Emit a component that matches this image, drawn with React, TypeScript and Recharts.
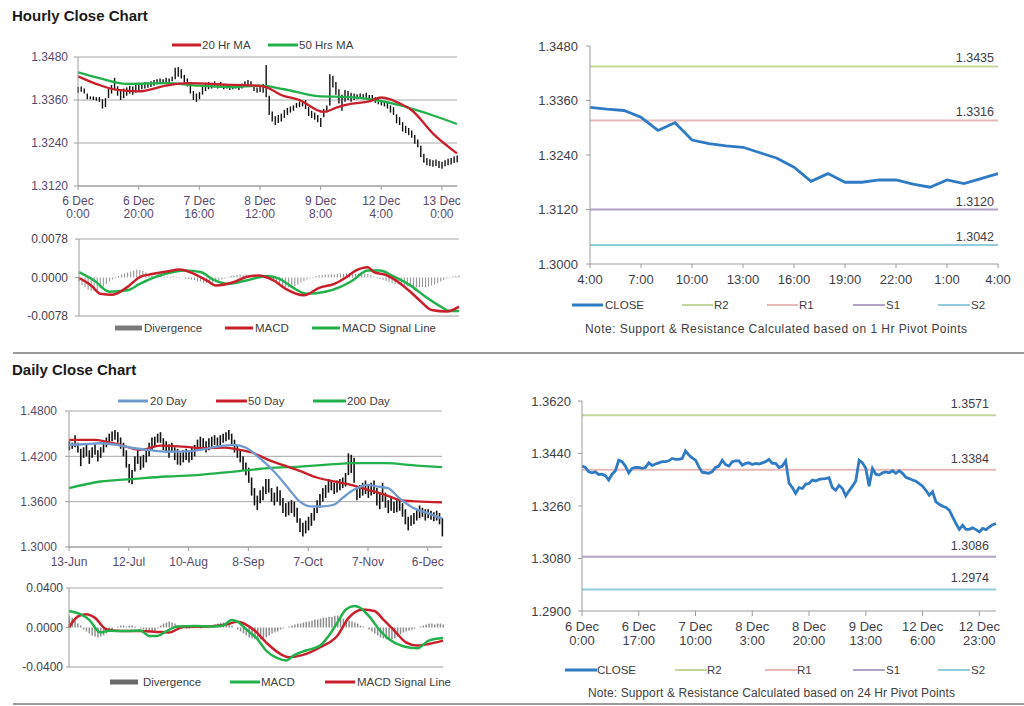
import React from 'react';
import { ComposedChart, Line, Bar, XAxis, YAxis, CartesianGrid, ReferenceLine } from 'recharts';

const FONT = "'Liberation Sans', Arial, Helvetica, sans-serif";
const RED = '#C8202A';
const GREEN = '#22B04B';
const BLUE20 = '#6E9AD0';
const CLOSE_BLUE = '#2E7BC3';
const GRID = '#A8A8A8';
const AXIS = '#9C9C9C';
const DIV_GRAY = '#8E8E8E';
const LABEL_PURPLE = '#574A6B';
const LABEL_DARK = '#3E3E48';
const PIVOT_COLORS = ['#C3D69B', '#E6B9B8', '#B3A2C7', '#93CDDD'];

// ---------------- Hourly close chart ----------------
const hourlyLow = [
  1.3380, 1.3383, 1.3378, 1.3362, 1.3362, 1.3360, 1.3358, 1.3355, 1.3336, 1.3340,
  1.3365, 1.3378, 1.3390, 1.3372, 1.3360, 1.3365, 1.3372, 1.3378, 1.3375, 1.3380,
  1.3385, 1.3390, 1.3392, 1.3394, 1.3396, 1.3400, 1.3404, 1.3406, 1.3408, 1.3410,
  1.3408, 1.3412, 1.3418, 1.3425, 1.3420, 1.3408, 1.3398, 1.3378, 1.3360, 1.3355,
  1.3362, 1.3375, 1.3385, 1.3390, 1.3392, 1.3395, 1.3392, 1.3394, 1.3390, 1.3392,
  1.3388, 1.3390, 1.3392, 1.3388, 1.3392, 1.3396, 1.3400, 1.3398, 1.3385, 1.3380,
  1.3382, 1.3380, 1.3368, 1.3318, 1.3300, 1.3290, 1.3296, 1.3300, 1.3310, 1.3318,
  1.3325, 1.3330, 1.3338, 1.3340, 1.3342, 1.3335, 1.3315, 1.3310, 1.3305, 1.3298,
  1.3285, 1.3312, 1.3325, 1.3345, 1.3395, 1.3375, 1.3350, 1.3330, 1.3355, 1.3360,
  1.3355, 1.3360, 1.3362, 1.3364, 1.3362, 1.3366, 1.3362, 1.3360, 1.3352, 1.3348,
  1.3345, 1.3342, 1.3336, 1.3325, 1.3318, 1.3295, 1.3290, 1.3272, 1.3268, 1.3262,
  1.3255, 1.3238, 1.3228, 1.3200, 1.3185, 1.3178, 1.3176, 1.3174, 1.3176, 1.3170,
  1.3168, 1.3175, 1.3178, 1.3180, 1.3184, 1.3186,
];
const hourlyHigh = [
  1.3396, 1.3398, 1.3392, 1.3378, 1.3370, 1.3370, 1.3368, 1.3368, 1.3362, 1.3365,
  1.3392, 1.3402, 1.3422, 1.3398, 1.3390, 1.3392, 1.3395, 1.3400, 1.3398, 1.3405,
  1.3408, 1.3406, 1.3410, 1.3408, 1.3412, 1.3416, 1.3418, 1.3420, 1.3418, 1.3422,
  1.3420, 1.3425, 1.3450, 1.3452, 1.3446, 1.3430, 1.3420, 1.3402, 1.3385, 1.3378,
  1.3382, 1.3398, 1.3408, 1.3410, 1.3408, 1.3412, 1.3404, 1.3410, 1.3404, 1.3402,
  1.3400, 1.3402, 1.3404, 1.3400, 1.3406, 1.3412, 1.3416, 1.3412, 1.3402, 1.3395,
  1.3398, 1.3405, 1.3458, 1.3372, 1.3328, 1.3315, 1.3318, 1.3322, 1.3332, 1.3338,
  1.3342, 1.3345, 1.3352, 1.3356, 1.3355, 1.3360, 1.3340, 1.3330, 1.3325, 1.3318,
  1.3310, 1.3335, 1.3345, 1.3432, 1.3428, 1.3410, 1.3390, 1.3375, 1.3388, 1.3385,
  1.3380, 1.3378, 1.3376, 1.3378, 1.3376, 1.3380, 1.3374, 1.3374, 1.3368, 1.3362,
  1.3360, 1.3356, 1.3352, 1.3345, 1.3340, 1.3320, 1.3312, 1.3298, 1.3288, 1.3282,
  1.3275, 1.3262, 1.3250, 1.3232, 1.3210, 1.3198, 1.3195, 1.3192, 1.3194, 1.3190,
  1.3188, 1.3192, 1.3196, 1.3198, 1.3202, 1.3205,
];
const hourTickIdx = [0, 20, 40, 60, 80, 100, 120];
const hourTickDay = ['6 Dec', '6 Dec', '7 Dec', '8 Dec', '9 Dec', '12 Dec', '13 Dec'];
const hourTickTime = ['0:00', '20:00', '16:00', '12:00', '8:00', '4:00', '0:00'];
const hourlyPriceTicks = [1.312, 1.324, 1.336, 1.348];

const ma20Idx = [0, 7, 13, 20, 29, 36, 51, 59, 62, 67, 73, 81, 86, 90, 96, 100, 103, 106, 110, 117, 125];
const ma20Val = [1.3426, 1.3402, 1.3388, 1.3384, 1.3400, 1.3407, 1.3402, 1.3400, 1.3396, 1.3374, 1.3360, 1.3327, 1.3341, 1.3349, 1.3356, 1.3367, 1.3362, 1.3351, 1.3332, 1.3267, 1.3211];
const ma50Idx = [0, 7, 16, 29, 40, 51, 60, 68, 79, 90, 98, 106, 115, 125];
const ma50Val = [1.3437, 1.3421, 1.3405, 1.3407, 1.3400, 1.3396, 1.3400, 1.3390, 1.3371, 1.3368, 1.3360, 1.3346, 1.3323, 1.3293];

// hourly MACD
const hMacdIdx = [0, 4, 7, 11, 16, 20, 24, 29, 33, 38, 42, 45, 51, 55, 59, 64, 68, 74, 79, 84, 88, 91, 95, 97, 101, 105, 109, 112, 116, 121, 125];
const hMacdVal = [-0.0001, -0.0016, -0.0033, -0.0035, -0.0019, 0.0001, 0.0007, 0.0012, 0.0016, 0.0007, -0.0006, -0.0016, -0.0009, 0.0001, 0.0004, -0.0006, -0.0023, -0.0036, -0.0021, -0.0013, 0.0001, 0.0014, 0.0021, 0.0011, 0.0005, -0.0009, -0.0029, -0.0046, -0.0066, -0.0069, -0.0059];
const hSigIdx = [0, 5, 10, 16, 20, 26, 31, 35, 40, 44, 49, 55, 62, 66, 70, 75, 81, 86, 90, 95, 99, 103, 109, 114, 119, 122, 125];
const hSigVal = [0.0011, -0.0006, -0.0029, -0.0026, -0.0013, 0.0003, 0.0011, 0.0014, 0.0011, -0.0004, -0.0013, -0.0006, 0.0003, -0.0003, -0.0019, -0.0033, -0.0029, -0.0019, -0.0006, 0.0014, 0.0014, 0.0004, -0.0016, -0.0039, -0.0059, -0.0068, -0.0068];
const hDivergence = [
  -0.0008, -0.0015, -0.0020, -0.0025, -0.0027, -0.0028, -0.0026, -0.0022, -0.0018, -0.0013, -0.0008, -0.0004, -0.0001,
  0.0003, 0.0006, 0.0008, 0.0010, 0.0012, 0.0014, 0.0016, 0.0015, 0.0013, 0.0010, 0.0007, 0.0004, 0.0003,
  0.0002, 0.0003, 0.0002, 0.0002, 0.0001, 0.0002, 0.0001, 0.0001, 0.0000, -0.0002, -0.0003, -0.0004,
  -0.0005, -0.0007, -0.0008, -0.0010, -0.0011, -0.0012, -0.0011, -0.0009, -0.0006, -0.0004, -0.0002, 0.0001, 0.0003,
  0.0004, 0.0005, 0.0006, 0.0005, 0.0006, 0.0005, 0.0004, 0.0003, 0.0002, 0.0001, 0.0000, -0.0002,
  -0.0005, -0.0008, -0.0011, -0.0014, -0.0017, -0.0019, -0.0020, -0.0019, -0.0017, -0.0014, -0.0010, -0.0007, -0.0004, -0.0002, 0.0001, 0.0003,
  0.0004, 0.0005, 0.0006, 0.0006, 0.0007, 0.0006, 0.0007, 0.0008, 0.0007, 0.0008, 0.0009, 0.0008, 0.0007, 0.0008, 0.0009, 0.0008, 0.0007, 0.0005, 0.0002,
  -0.0001, -0.0003, -0.0005, -0.0007, -0.0009, -0.0011, -0.0013, -0.0014, -0.0016, -0.0017, -0.0018, -0.0019, -0.0020, -0.0020, -0.0019, -0.0020, -0.0019, -0.0018, -0.0016, -0.0014, -0.0011, -0.0008,
  -0.0005, -0.0002, 0.0001, 0.0002, 0.0003, 0.0004,
];
const hMacdTicks = [-0.0078, 0, 0.0078];

// hourly pivot chart
const pivotHourTicks = [0, 3, 6, 9, 12, 15, 18, 21, 24];
const pivotHourLabels = ['4:00', '7:00', '10:00', '13:00', '16:00', '19:00', '22:00', '1:00', '4:00'];
const pivotHourClose = [1.3345, 1.3341, 1.3338, 1.3323, 1.3294, 1.3311, 1.3273, 1.3265, 1.3260, 1.3257, 1.3245, 1.3233, 1.3213, 1.3182, 1.3199, 1.3180, 1.3180, 1.3185, 1.3185, 1.3176, 1.3169, 1.3185, 1.3177, 1.3188, 1.3199];
const pivotNames = ['R2', 'R1', 'S1', 'S2'];
const pivotHourLevels = [1.3435, 1.3316, 1.3120, 1.3042];
const pivotHourYTicks = [1.3, 1.312, 1.324, 1.336, 1.348];

// ---------------- Daily close chart ----------------
const dailyLow = [
  1.428, 1.430, 1.432, 1.425, 1.407, 1.418, 1.420, 1.410, 1.418, 1.422,
  1.413, 1.418, 1.425, 1.432, 1.438, 1.440, 1.442, 1.438, 1.430, 1.420,
  1.405, 1.385, 1.383, 1.400, 1.410, 1.402, 1.405, 1.412, 1.420, 1.428,
  1.432, 1.438, 1.438, 1.428, 1.425, 1.418, 1.425, 1.415, 1.409, 1.408,
  1.412, 1.415, 1.412, 1.415, 1.420, 1.428, 1.432, 1.430, 1.425, 1.428,
  1.432, 1.435, 1.430, 1.434, 1.438, 1.440, 1.442, 1.435, 1.425, 1.418,
  1.412, 1.402, 1.395, 1.385, 1.368, 1.355, 1.349, 1.358, 1.362, 1.370,
  1.372, 1.360, 1.355, 1.360, 1.355, 1.345, 1.340, 1.342, 1.345, 1.340,
  1.332, 1.320, 1.314, 1.318, 1.322, 1.328, 1.335, 1.345, 1.352, 1.360,
  1.365, 1.372, 1.375, 1.370, 1.372, 1.375, 1.378, 1.380, 1.395, 1.398,
  1.385, 1.362, 1.365, 1.368, 1.370, 1.365, 1.368, 1.370, 1.355, 1.350,
  1.360, 1.352, 1.345, 1.348, 1.345, 1.346, 1.348, 1.340, 1.330, 1.322,
  1.328, 1.330, 1.335, 1.338, 1.340, 1.335, 1.338, 1.336, 1.334, 1.335,
  1.330, 1.314,
];
const dailyHigh = [
  1.440, 1.438, 1.448, 1.438, 1.430, 1.432, 1.435, 1.428, 1.432, 1.436,
  1.428, 1.432, 1.440, 1.445, 1.450, 1.453, 1.455, 1.452, 1.445, 1.438,
  1.428, 1.410, 1.402, 1.420, 1.428, 1.420, 1.422, 1.428, 1.438, 1.445,
  1.446, 1.450, 1.452, 1.444, 1.440, 1.436, 1.438, 1.432, 1.430, 1.425,
  1.428, 1.430, 1.428, 1.432, 1.435, 1.442, 1.446, 1.444, 1.440, 1.444,
  1.446, 1.448, 1.445, 1.448, 1.450, 1.452, 1.455, 1.450, 1.442, 1.435,
  1.428, 1.420, 1.412, 1.405, 1.392, 1.378, 1.368, 1.375, 1.380, 1.390,
  1.390, 1.378, 1.372, 1.380, 1.375, 1.365, 1.358, 1.360, 1.362, 1.360,
  1.352, 1.338, 1.332, 1.335, 1.340, 1.345, 1.352, 1.362, 1.370, 1.378,
  1.382, 1.390, 1.388, 1.385, 1.388, 1.390, 1.392, 1.398, 1.424, 1.422,
  1.418, 1.380, 1.382, 1.385, 1.388, 1.382, 1.385, 1.388, 1.378, 1.372,
  1.385, 1.372, 1.362, 1.365, 1.360, 1.362, 1.365, 1.358, 1.350, 1.340,
  1.342, 1.345, 1.350, 1.355, 1.352, 1.350, 1.350, 1.348, 1.346, 1.348,
  1.345, 1.338,
];
const dayTickIdx = [0, 21, 42, 63, 84, 105, 126];
const dayTickLabels = ['13-Jun', '12-Jul', '10-Aug', '8-Sep', '7-Oct', '7-Nov', '6-Dec'];
const dailyPriceTicks = [1.3, 1.36, 1.42, 1.48];

const d20Idx = [0, 5, 11, 17, 23, 28, 34, 40, 46, 52, 58, 62, 67, 72, 77, 81, 85, 89, 93, 96, 100, 105, 108, 112, 116, 121, 126, 131];
const d20Val = [1.4351, 1.4360, 1.4373, 1.4351, 1.4307, 1.4285, 1.4263, 1.4263, 1.4285, 1.4329, 1.4351, 1.4316, 1.4175, 1.3999, 1.3779, 1.3603, 1.3537, 1.3537, 1.3559, 1.3647, 1.3757, 1.3823, 1.3801, 1.3779, 1.3647, 1.3515, 1.3449, 1.3375];
const d50Idx = [0, 9, 13, 18, 25, 32, 40, 48, 55, 60, 65, 70, 75, 81, 87, 93, 99, 105, 111, 116, 122, 131];
const d50Val = [1.4417, 1.4417, 1.4395, 1.4351, 1.4285, 1.4342, 1.4329, 1.4307, 1.4316, 1.4285, 1.4241, 1.4153, 1.4087, 1.4008, 1.3920, 1.3867, 1.3823, 1.3757, 1.3691, 1.3625, 1.3603, 1.3590];
const d200Idx = [0, 11, 23, 34, 46, 58, 70, 81, 93, 99, 111, 122, 131];
const d200Val = [1.3779, 1.3867, 1.3902, 1.3933, 1.3955, 1.3999, 1.4043, 1.4065, 1.4096, 1.4109, 1.4109, 1.4078, 1.4056];

// daily MACD
const dMacdIdx = [0, 4, 7, 11, 14, 20, 25, 28, 31, 34, 38, 44, 50, 54, 57, 59, 62, 66, 69, 73, 76, 79, 83, 88, 91, 94, 97, 100, 102, 105, 109, 112, 117, 122, 126, 131];
const dMacdVal = [0.0168, 0.0135, 0.0080, -0.0050, -0.0034, -0.0035, -0.0030, -0.0085, -0.0085, -0.0040, 0.0010, 0.0015, 0.0010, 0.0020, 0.0077, 0.0060, -0.0017, -0.0117, -0.0233, -0.0310, -0.0333, -0.0277, -0.0233, -0.0183, -0.0083, 0.0050, 0.0183, 0.0217, 0.0200, 0.0117, -0.0033, -0.0117, -0.0190, -0.0210, -0.0133, -0.0107];
const dSigIdx = [0, 3, 6, 9, 13, 18, 25, 31, 35, 40, 48, 55, 59, 62, 65, 69, 74, 77, 82, 88, 94, 98, 103, 107, 110, 114, 118, 122, 126, 131];
const dSigVal = [0.0000, 0.0110, 0.0135, 0.0100, -0.0017, -0.0035, -0.0035, -0.0045, -0.0050, 0.0005, 0.0010, 0.0030, 0.0057, 0.0030, -0.0030, -0.0150, -0.0267, -0.0300, -0.0277, -0.0200, -0.0083, 0.0100, 0.0183, 0.0167, 0.0083, -0.0033, -0.0150, -0.0183, -0.0167, -0.0133];
const dDivergence = [
  0.012, 0.010, 0.007, 0.004, 0.002,
  -0.002, -0.004, -0.006, -0.008, -0.009, -0.010, -0.009, -0.008, -0.006, -0.004, -0.002,
  0.000, 0.001, 0.002, 0.002, 0.001, 0.002, 0.002, 0.001, 0.000, -0.001, -0.002, -0.003, -0.004, -0.004, -0.003,
  -0.001, 0.002, 0.004, 0.005, 0.006, 0.005, 0.004, 0.002, 0.001, 0.000,
  -0.001, -0.001, 0.000, 0.001, 0.000, -0.001, 0.000, 0.001, 0.002, 0.002, 0.003, 0.004, 0.005, 0.005, 0.004, 0.003, 0.002,
  0.000, -0.002, -0.004, -0.006, -0.008, -0.010, -0.011, -0.012, -0.013, -0.012, -0.011, -0.010, -0.008, -0.006, -0.005, -0.004, -0.002, -0.001, 0.000,
  0.001, 0.002, 0.003, 0.004, 0.004, 0.005, 0.006, 0.006, 0.007, 0.008, 0.008, 0.009, 0.010, 0.010, 0.011, 0.011, 0.012, 0.012, 0.010, 0.009, 0.008, 0.007, 0.006, 0.005,
  0.004, 0.002, 0.001, 0.000,
  -0.002, -0.004, -0.006, -0.008, -0.010, -0.011, -0.012, -0.013, -0.012, -0.011, -0.009, -0.007, -0.005, -0.004, -0.003, -0.002,
  -0.001, 0.000, 0.001, 0.002, 0.003, 0.004, 0.004, 0.003, 0.004, 0.004, 0.003,
];
const dMacdTicks = [-0.04, 0, 0.04];

// daily pivot chart
const pivotDayTicks = [0, 17, 34, 51, 68, 85, 102, 119];
const pivotDayTop = ['6 Dec', '6 Dec', '7 Dec', '8 Dec', '8 Dec', '9 Dec', '12 Dec', '12 Dec'];
const pivotDayBottom = ['0:00', '17:00', '10:00', '3:00', '20:00', '13:00', '6:00', '23:00'];
const pivotDayClose = [
  1.3397, 1.3392, 1.3377, 1.3374, 1.3377, 1.3368, 1.3369, 1.3364, 1.3349, 1.3369,
  1.3381, 1.3417, 1.3412, 1.3397, 1.3374, 1.3389, 1.3392, 1.3392, 1.3389, 1.3392,
  1.3408, 1.3399, 1.3404, 1.3408, 1.3412, 1.3412, 1.3415, 1.3423, 1.3420, 1.3420,
  1.3423, 1.3449, 1.3435, 1.3425, 1.3417, 1.3394, 1.3376, 1.3374, 1.3372, 1.3378,
  1.3392, 1.3397, 1.3417, 1.3402, 1.3397, 1.3412, 1.3415, 1.3415, 1.3400, 1.3406,
  1.3408, 1.3402, 1.3406, 1.3404, 1.3408, 1.3412, 1.3420, 1.3406, 1.3406, 1.3392,
  1.3397, 1.3415, 1.3339, 1.3323, 1.3303, 1.3323, 1.3320, 1.3335, 1.3337, 1.3349,
  1.3346, 1.3351, 1.3353, 1.3354, 1.3357, 1.3323, 1.3314, 1.3331, 1.3320, 1.3295,
  1.3312, 1.3328, 1.3346, 1.3417, 1.3408, 1.3389, 1.3328, 1.3389, 1.3369, 1.3366,
  1.3374, 1.3377, 1.3374, 1.3381, 1.3372, 1.3381, 1.3372, 1.3358, 1.3354, 1.3349,
  1.3345, 1.3337, 1.3328, 1.3314, 1.3297, 1.3309, 1.3274, 1.3266, 1.3259, 1.3255,
  1.3246, 1.3223, 1.3200, 1.3180, 1.3194, 1.3180, 1.3180, 1.3185, 1.3179, 1.3171,
  1.3183, 1.3179, 1.3188, 1.3196, 1.3200,
];
const pivotDayLevels = [1.3571, 1.3384, 1.3086, 1.2974];
const pivotDayYTicks = [1.29, 1.308, 1.326, 1.344, 1.362];

// ---------------- helpers ----------------
function sparse(n: number, idx: number[], vals: number[]): (number | null)[] {
  const arr: (number | null)[] = new Array(n).fill(null);
  idx.forEach((k, j) => {
    arr[k] = vals[j];
  });
  return arr;
}

const ma20S = sparse(hourlyLow.length, ma20Idx, ma20Val);
const ma50S = sparse(hourlyLow.length, ma50Idx, ma50Val);
const hourlyData = hourlyLow.map((lo, i) => ({ i, range: [lo, hourlyHigh[i]], ma20: ma20S[i], ma50: ma50S[i] }));

const hMacdS = sparse(hDivergence.length, hMacdIdx, hMacdVal);
const hSigS = sparse(hDivergence.length, hSigIdx, hSigVal);
const hMacdData = hDivergence.map((d, i) => ({ i, div: d, macd: hMacdS[i], signal: hSigS[i] }));

const pivotHourData = pivotHourClose.map((c, i) => ({ i, close: c }));

const d20S = sparse(dailyLow.length, d20Idx, d20Val);
const d50S = sparse(dailyLow.length, d50Idx, d50Val);
const d200S = sparse(dailyLow.length, d200Idx, d200Val);
const dailyData = dailyLow.map((lo, i) => ({ i, range: [lo, dailyHigh[i]], d20: d20S[i], d50: d50S[i], d200: d200S[i] }));

const dMacdS = sparse(dDivergence.length, dMacdIdx, dMacdVal);
const dSigS = sparse(dDivergence.length, dSigIdx, dSigVal);
const dMacdData = dDivergence.map((d, i) => ({ i, div: d, macd: dMacdS[i], signal: dSigS[i] }));

const pivotDayData = pivotDayClose.map((c, i) => ({ i, close: c }));

const TwoLineTick = (props: any) => {
  const { x, y, payload, tickList, topLabels, bottomLabels, size, labelFill, d1, d2 } = props;
  const k = tickList.indexOf(payload.value);
  return (
    <g>
      <text x={x} y={y} dy={d1} textAnchor="middle" fontSize={size} fill={labelFill} fontFamily={FONT}>
        {topLabels[k]}
      </text>
      <text x={x} y={y} dy={d2} textAnchor="middle" fontSize={size} fill={labelFill} fontFamily={FONT}>
        {bottomLabels[k]}
      </text>
    </g>
  );
};

type LegendItem = { label: string; color: string; x1: number; x2: number; tx: number; w: number };
const LegendRow = ({ y, items, size }: { y: number; items: LegendItem[]; size: number }) => (
  <g>
    {items.map((it) => (
      <g key={it.label}>
        <line x1={it.x1} x2={it.x2} y1={y} y2={y} stroke={it.color} strokeWidth={it.w} />
        <text x={it.tx} y={y + 4} fontSize={size} fill="#404040" fontFamily={FONT}>
          {it.label}
        </text>
      </g>
    ))}
  </g>
);

const axisLine = { stroke: AXIS };

export default function App() {
  return (
    <div style={{ position: 'absolute', left: 0, top: 0, width: 1024, height: 706, background: '#fff', fontFamily: FONT, overflow: 'hidden' }}>
      <svg width={1024} height={706} style={{ position: 'absolute', left: 0, top: 0 }}>
        <text x={12} y={21} fontSize={15} fontWeight="bold" fill="#1a1a1a" fontFamily={FONT}>Hourly Close Chart</text>
        <line x1={13} x2={1024} y1={353} y2={353} stroke="#9b9b9b" strokeWidth={2} />
        <text x={12} y={375} fontSize={15} fontWeight="bold" fill="#1a1a1a" fontFamily={FONT}>Daily Close Chart</text>
        <line x1={13} x2={1024} y1={704} y2={704} stroke="#9b9b9b" strokeWidth={2} />

        <LegendRow y={45} size={11.5} items={[
          { label: '20 Hr MA', color: RED, x1: 172, x2: 201, tx: 202, w: 3 },
          { label: '50 Hrs MA', color: GREEN, x1: 268, x2: 298, tx: 299, w: 3 },
        ]} />
        <LegendRow y={328} size={11.5} items={[
          { label: 'Divergence', color: '#7a7a7a', x1: 115, x2: 142, tx: 144, w: 5 },
          { label: 'MACD', color: RED, x1: 225, x2: 253, tx: 255, w: 3 },
          { label: 'MACD Signal Line', color: GREEN, x1: 312, x2: 340, tx: 342, w: 3 },
        ]} />
        <LegendRow y={305} size={11.5} items={[
          { label: 'CLOSE', color: CLOSE_BLUE, x1: 572, x2: 603, tx: 605, w: 3 },
          { label: pivotNames[0], color: PIVOT_COLORS[0], x1: 682, x2: 713, tx: 714, w: 2 },
          { label: pivotNames[1], color: PIVOT_COLORS[1], x1: 767, x2: 798, tx: 799, w: 2 },
          { label: pivotNames[2], color: PIVOT_COLORS[2], x1: 853, x2: 885, tx: 886, w: 2 },
          { label: pivotNames[3], color: PIVOT_COLORS[3], x1: 938, x2: 970, tx: 971, w: 2 },
        ]} />
        <text x={585} y={333} fontSize={12} fill="#404040" fontFamily={FONT} textLength={382} lengthAdjust="spacing">
          Note: Support &amp; Resistance Calculated based on 1 Hr Pivot Points
        </text>

        <LegendRow y={401} size={11.5} items={[
          { label: '20 Day', color: BLUE20, x1: 118, x2: 148, tx: 150, w: 3 },
          { label: '50 Day', color: RED, x1: 216, x2: 247, tx: 248, w: 3 },
          { label: '200 Day', color: GREEN, x1: 313, x2: 346, tx: 347, w: 3 },
        ]} />
        <LegendRow y={682} size={11.5} items={[
          { label: 'Divergence', color: '#6a6a6a', x1: 110, x2: 138, tx: 143, w: 5 },
          { label: 'MACD', color: GREEN, x1: 230, x2: 260, tx: 261, w: 3 },
          { label: 'MACD Signal Line', color: RED, x1: 325, x2: 355, tx: 357, w: 3 },
        ]} />
        <LegendRow y={670} size={11.5} items={[
          { label: 'CLOSE', color: CLOSE_BLUE, x1: 565, x2: 597, tx: 597, w: 3 },
          { label: pivotNames[0], color: PIVOT_COLORS[0], x1: 675, x2: 707, tx: 707, w: 2 },
          { label: pivotNames[1], color: PIVOT_COLORS[1], x1: 765, x2: 797, tx: 797, w: 2 },
          { label: pivotNames[2], color: PIVOT_COLORS[2], x1: 853, x2: 885, tx: 886, w: 2 },
          { label: pivotNames[3], color: PIVOT_COLORS[3], x1: 938, x2: 970, tx: 971, w: 2 },
        ]} />
        <text x={588} y={697} fontSize={12} fill="#404040" fontFamily={FONT} textLength={367} lengthAdjust="spacing">
          Note: Support &amp; Resistance Calculated based on 24 Hr Pivot Points
        </text>
      </svg>

      {/* Hourly price */}
      <div style={{ position: 'absolute', left: 0, top: 0 }}>
        <ComposedChart width={470} height={226} data={hourlyData} margin={{ top: 57, right: 13, bottom: 0, left: 0 }}>
          <CartesianGrid horizontal vertical={false} stroke={GRID} />
          <XAxis dataKey="i" type="number" domain={[0, 125]} ticks={hourTickIdx} interval={0} height={40}
            axisLine={axisLine} tickLine={axisLine} tickSize={4} tickMargin={2}
            tick={(p: any) => <TwoLineTick {...p} tickList={hourTickIdx} topLabels={hourTickDay} bottomLabels={hourTickTime} size={12} labelFill={LABEL_PURPLE} d1={13} d2={26} />} />
          <YAxis type="number" domain={[1.312, 1.348]} ticks={hourlyPriceTicks} interval={0} width={78}
            axisLine={axisLine} tickLine={axisLine} tickSize={4} tickMargin={6}
            tickFormatter={(v: number) => v.toFixed(4)} tick={{ fill: LABEL_PURPLE, fontSize: 12, fontFamily: FONT }} />
          <Bar dataKey="range" fill="#111111" barSize={1.4} isAnimationActive={false} />
          <Line dataKey="ma50" type="monotone" stroke={GREEN} strokeWidth={2.3} dot={false} activeDot={false} connectNulls isAnimationActive={false} />
          <Line dataKey="ma20" type="monotone" stroke={RED} strokeWidth={2.3} dot={false} activeDot={false} connectNulls isAnimationActive={false} />
        </ComposedChart>
      </div>

      {/* Hourly MACD */}
      <div style={{ position: 'absolute', left: 0, top: 200 }}>
        <ComposedChart width={470} height={130} data={hMacdData} margin={{ top: 39, right: 11, bottom: 0, left: 0 }}>
          <ReferenceLine y={0.0078} stroke={GRID} />
          <XAxis dataKey="i" type="number" domain={[0, 125]} tick={false} tickLine={false} height={14} axisLine={axisLine} />
          <YAxis type="number" domain={[-0.0078, 0.0078]} ticks={hMacdTicks} interval={0} width={79}
            axisLine={axisLine} tickLine={axisLine} tickSize={4} tickMargin={7}
            tickFormatter={(v: number) => v.toFixed(4)} tick={{ fill: LABEL_DARK, fontSize: 12, fontFamily: FONT }} />
          <Bar dataKey="div" fill={DIV_GRAY} barSize={1} isAnimationActive={false} />
          <Line dataKey="signal" type="monotone" stroke={GREEN} strokeWidth={2.5} dot={false} activeDot={false} connectNulls isAnimationActive={false} />
          <Line dataKey="macd" type="monotone" stroke={RED} strokeWidth={2.5} dot={false} activeDot={false} connectNulls isAnimationActive={false} />
        </ComposedChart>
      </div>

      {/* Hourly pivot */}
      <div style={{ position: 'absolute', left: 520, top: 0 }}>
        <ComposedChart width={504} height={300} data={pivotHourData} margin={{ top: 46, right: 26, bottom: 0, left: 0 }}>
          <XAxis dataKey="i" type="number" domain={[0, 24]} ticks={pivotHourTicks} interval={0} height={36}
            axisLine={axisLine} tickLine={axisLine} tickSize={4} tickMargin={7}
            tickFormatter={(v: number) => pivotHourLabels[pivotHourTicks.indexOf(v)]}
            tick={{ fill: LABEL_DARK, fontSize: 13, fontFamily: FONT }} />
          <YAxis type="number" domain={[1.3, 1.348]} ticks={pivotHourYTicks} interval={0} width={70}
            axisLine={axisLine} tickLine={axisLine} tickSize={4} tickMargin={8}
            tickFormatter={(v: number) => v.toFixed(4)} tick={{ fill: LABEL_DARK, fontSize: 13, fontFamily: FONT }} />
          {pivotHourLevels.map((lv, k) => (
            <ReferenceLine key={pivotNames[k]} y={lv} stroke={PIVOT_COLORS[k]} strokeWidth={2}
              label={{ value: lv.toFixed(4), position: 'insideBottomRight', offset: 4, fill: LABEL_DARK, fontSize: 12.5, fontFamily: FONT }} />
          ))}
          <Line dataKey="close" type="linear" stroke={CLOSE_BLUE} strokeWidth={2.8} dot={false} activeDot={false} isAnimationActive={false} />
        </ComposedChart>
      </div>

      {/* Daily price */}
      <div style={{ position: 'absolute', left: 0, top: 355 }}>
        <ComposedChart width={470} height={220} data={dailyData} margin={{ top: 56, right: 28, bottom: 0, left: 0 }}>
          <CartesianGrid horizontal vertical={false} stroke={GRID} />
          <XAxis dataKey="i" type="number" domain={[0, 131]} ticks={dayTickIdx} interval={0} height={28}
            axisLine={axisLine} tickLine={axisLine} tickSize={4} tickMargin={6}
            tickFormatter={(v: number) => dayTickLabels[dayTickIdx.indexOf(v)]}
            tick={{ fill: LABEL_PURPLE, fontSize: 12, fontFamily: FONT }} />
          <YAxis type="number" domain={[1.3, 1.48]} ticks={dailyPriceTicks} interval={0} width={69}
            axisLine={axisLine} tickLine={axisLine} tickSize={4} tickMargin={8}
            tickFormatter={(v: number) => v.toFixed(4)} tick={{ fill: LABEL_PURPLE, fontSize: 12, fontFamily: FONT }} />
          <Bar dataKey="range" fill="#111111" barSize={1.6} isAnimationActive={false} />
          <Line dataKey="d200" type="monotone" stroke={GREEN} strokeWidth={2.3} dot={false} activeDot={false} connectNulls isAnimationActive={false} />
          <Line dataKey="d50" type="monotone" stroke={RED} strokeWidth={2.3} dot={false} activeDot={false} connectNulls isAnimationActive={false} />
          <Line dataKey="d20" type="monotone" stroke={BLUE20} strokeWidth={2.3} dot={false} activeDot={false} connectNulls isAnimationActive={false} />
        </ComposedChart>
      </div>

      {/* Daily MACD */}
      <div style={{ position: 'absolute', left: 0, top: 560 }}>
        <ComposedChart width={470} height={120} data={dMacdData} margin={{ top: 28, right: 27, bottom: 0, left: 0 }}>
          <ReferenceLine y={0.04} stroke={GRID} />
          <XAxis dataKey="i" type="number" domain={[0, 131]} tick={false} tickLine={false} height={13} axisLine={axisLine} />
          <YAxis type="number" domain={[-0.04, 0.04]} ticks={dMacdTicks} interval={0} width={69}
            axisLine={axisLine} tickLine={axisLine} tickSize={3} tickMargin={3}
            tickFormatter={(v: number) => v.toFixed(4)} tick={{ fill: LABEL_DARK, fontSize: 12, fontFamily: FONT }} />
          <Bar dataKey="div" fill={DIV_GRAY} barSize={1.5} isAnimationActive={false} />
          <Line dataKey="signal" type="monotone" stroke={RED} strokeWidth={2.5} dot={false} activeDot={false} connectNulls isAnimationActive={false} />
          <Line dataKey="macd" type="monotone" stroke={GREEN} strokeWidth={2.5} dot={false} activeDot={false} connectNulls isAnimationActive={false} />
        </ComposedChart>
      </div>

      {/* Daily pivot */}
      <div style={{ position: 'absolute', left: 520, top: 360 }}>
        <ComposedChart width={504} height={300} data={pivotDayData} margin={{ top: 41, right: 28, bottom: 0, left: 0 }}>
          <XAxis dataKey="i" type="number" domain={[0, 124]} ticks={pivotDayTicks} interval={0} height={49}
            axisLine={axisLine} tickLine={axisLine} tickSize={5} tickMargin={2}
            tick={(p: any) => <TwoLineTick {...p} tickList={pivotDayTicks} topLabels={pivotDayTop} bottomLabels={pivotDayBottom} size={13} labelFill={LABEL_DARK} d1={12.5} d2={26.5} />} />
          <YAxis type="number" domain={[1.29, 1.362]} ticks={pivotDayYTicks} interval={0} width={62}
            axisLine={axisLine} tickLine={axisLine} tickSize={4} tickMargin={7}
            tickFormatter={(v: number) => v.toFixed(4)} tick={{ fill: LABEL_DARK, fontSize: 13, fontFamily: FONT }} />
          {pivotDayLevels.map((lv, k) => (
            <ReferenceLine key={pivotNames[k]} y={lv} stroke={PIVOT_COLORS[k]} strokeWidth={2}
              label={{ value: lv.toFixed(4), position: 'insideBottomRight', offset: 7, fill: LABEL_DARK, fontSize: 12.5, fontFamily: FONT }} />
          ))}
          <Line dataKey="close" type="linear" stroke={CLOSE_BLUE} strokeWidth={2.8} dot={false} activeDot={false} isAnimationActive={false} />
        </ComposedChart>
      </div>
    </div>
  );
}
